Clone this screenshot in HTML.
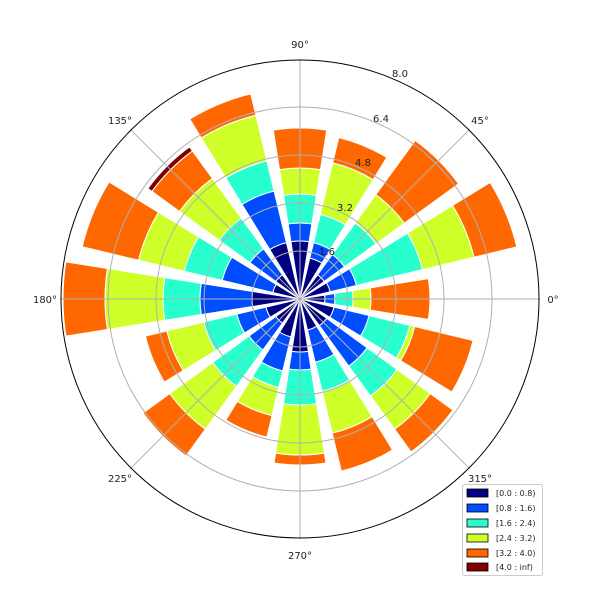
<!DOCTYPE html>
<html><head><meta charset="utf-8"><style>
html,body{margin:0;padding:0;background:#fff;}
svg text{font-family:"DejaVu Sans","Liberation Sans",sans-serif;}
</style></head><body>
<svg id="s" width="600" height="600" viewBox="0 0 600 600" xmlns="http://www.w3.org/2000/svg">
<rect width="600" height="600" fill="#fff"/>
<g id="bars"></g>
<g id="grid" fill="none" stroke="#b0b0b0" stroke-width="1">
<circle cx="300" cy="299" r="48"/><circle cx="300" cy="299" r="96"/><circle cx="300" cy="299" r="144"/><circle cx="300" cy="299" r="192"/>
<line x1="300" y1="299" x2="540" y2="299"/><line x1="300" y1="299" x2="469.7" y2="129.3"/>
<line x1="300" y1="299" x2="300" y2="59"/><line x1="300" y1="299" x2="130.3" y2="129.3"/>
<line x1="300" y1="299" x2="60" y2="299"/><line x1="300" y1="299" x2="130.3" y2="468.7"/>
<line x1="300" y1="299" x2="300" y2="539"/><line x1="300" y1="299" x2="469.7" y2="468.7"/>
</g>
<circle cx="300" cy="299" r="239" fill="none" stroke="#000" stroke-width="1"/>
<g font-size="10" fill="#222" text-anchor="middle">
<text x="553" y="303">0°</text><text x="480" y="124">45°</text><text x="300" y="48">90°</text><text x="120" y="124">135°</text>
<text x="45" y="303">180°</text><text x="120" y="482">225°</text><text x="300" y="559">270°</text><text x="480" y="482">315°</text>
<text x="327" y="255">1.6</text><text x="345" y="211">3.2</text><text x="363" y="166">4.8</text><text x="381" y="122">6.4</text><text x="400" y="77">8.0</text>
</g>
<g>
<rect x="462.5" y="484.5" width="80" height="91" rx="2" fill="#fff" stroke="#ccc"/>
<g stroke="#000" stroke-width="0.8">
<rect x="467" y="489" width="21" height="8" fill="#000080"/>
<rect x="467" y="504" width="21" height="8" fill="#004cff"/>
<rect x="467" y="519" width="21" height="8" fill="#29ffce"/>
<rect x="467" y="534" width="21" height="8" fill="#ceff29"/>
<rect x="467" y="549" width="21" height="8" fill="#ff6800"/>
<rect x="467" y="563" width="21" height="8" fill="#800000"/>
</g>
<g font-size="8" fill="#222">
<text x="496" y="496">[0.0 : 0.8)</text><text x="496" y="511">[0.8 : 1.6)</text><text x="496" y="526">[1.6 : 2.4)</text>
<text x="496" y="541">[2.4 : 3.2)</text><text x="496" y="556">[3.2 : 4.0)</text><text x="496" y="570">[4.0 : inf)</text>
</g>
</g>
</svg>
<script>
var cx=300,cy=299,hw=9*Math.PI/180;
var cols=["#000080","#004cff","#29ffce","#ceff29","#ff6800","#800000"];
var data=[[25,35,53,71,130],[31,58,126,179,223],[30,55,94,129,196],[42,58,87,140,166],
[58,76,105,131,171],[58,111,142,189,211],[30,62,100,149,183,188],[28,80,119,166,224],
[48,100,137,195,237],[35,65,99,137,159],[30,63,108,161,194],[39,74,91,120,142],
[53,71,106,156,166],[32,65,95,138,177],[33,83,120,161,189],[35,71,113,118,178]];
function P(r,a){return (cx+r*Math.cos(a)).toFixed(2)+","+(cy-r*Math.sin(a)).toFixed(2);}
var g=document.getElementById("bars"),h="";
data.forEach(function(d,i){var c=i*22.5*Math.PI/180,a1=c-hw,a2=c+hw,r0=0;
d.forEach(function(r1,j){var p;
if(r0<=0){p="M"+cx+","+cy+" L"+P(r1,a1)+" A"+r1+","+r1+" 0 0 0 "+P(r1,a2)+" Z";}
else{p="M"+P(r0,a1)+" L"+P(r1,a1)+" A"+r1+","+r1+" 0 0 0 "+P(r1,a2)+" L"+P(r0,a2)+" A"+r0+","+r0+" 0 0 1 "+P(r0,a1)+" Z";}
h+='<path d="'+p+'" fill="'+cols[j]+'" stroke="#fff" stroke-width="1"/>';r0=r1;});});
g.innerHTML=h;
</script>
</body></html>
